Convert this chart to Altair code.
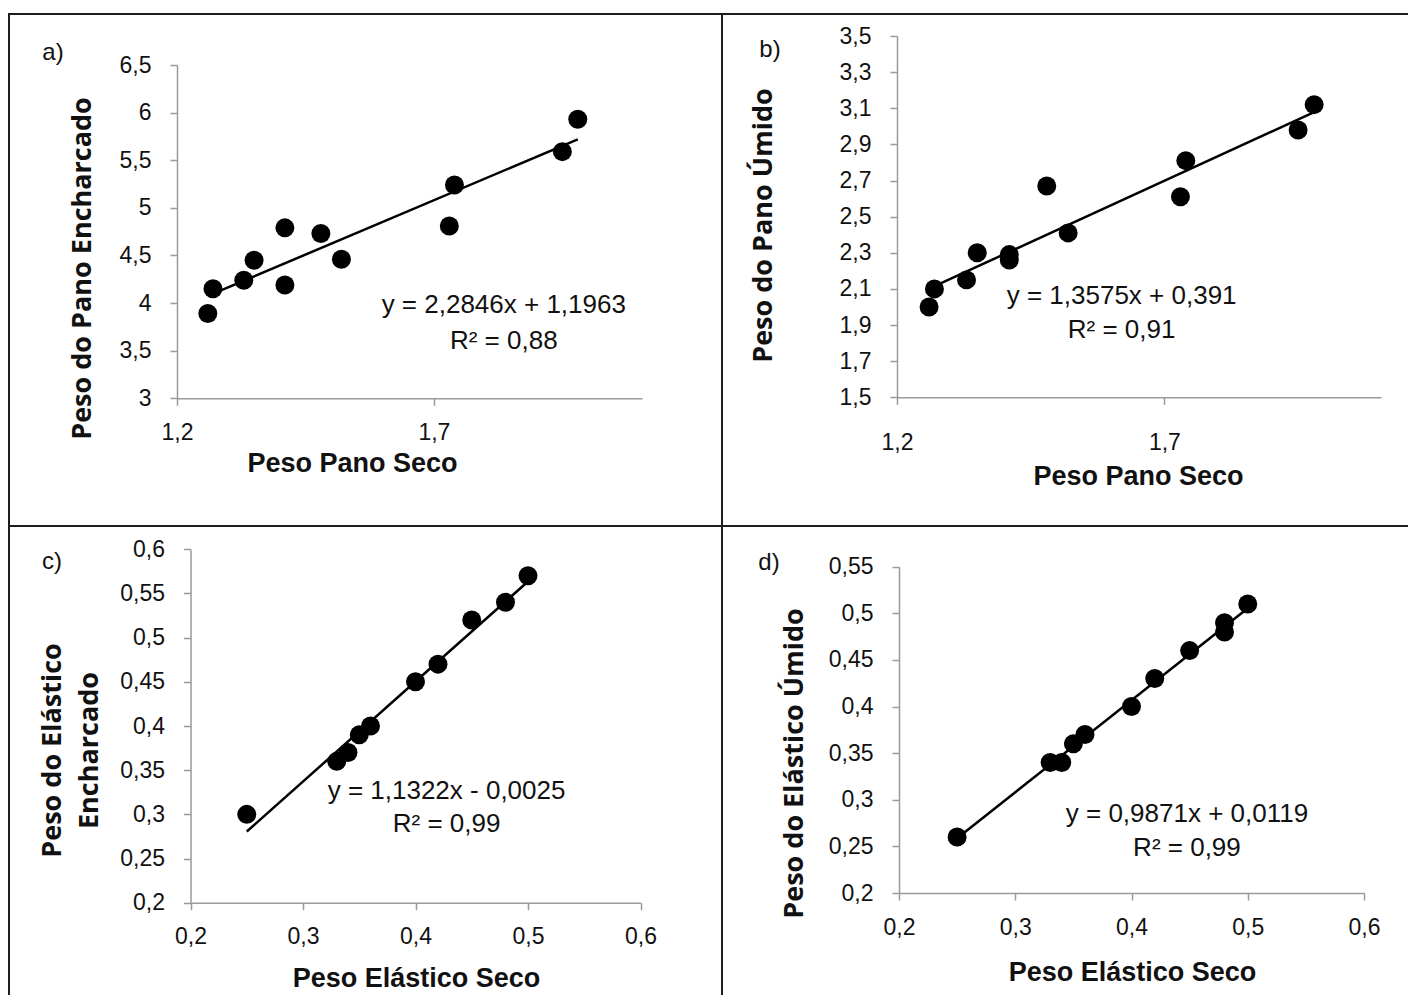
import altair as alt
import pandas as pd

# ---------------- data ----------------
pano_seco_a = [1.26, 1.27, 1.33, 1.35, 1.41, 1.41, 1.48, 1.52, 1.73, 1.74, 1.95, 1.98]
pano_encharcado = [3.89, 4.15, 4.24, 4.45, 4.79, 4.19, 4.73, 4.46, 4.81, 5.24, 5.59, 5.93]

pano_seco_b = [1.26, 1.27, 1.33, 1.35, 1.41, 1.41, 1.48, 1.52, 1.73, 1.74, 1.95, 1.98]
pano_umido = [2.00, 2.10, 2.15, 2.30, 2.29, 2.26, 2.67, 2.41, 2.61, 2.81, 2.98, 3.12]

elastico_seco_c = [0.25, 0.33, 0.34, 0.35, 0.36, 0.40, 0.42, 0.45, 0.48, 0.50]
elastico_encharcado = [0.30, 0.36, 0.37, 0.39, 0.40, 0.45, 0.47, 0.52, 0.54, 0.57]

elastico_seco_d = [0.25, 0.33, 0.34, 0.35, 0.36, 0.40, 0.42, 0.45, 0.48, 0.48, 0.50]
elastico_umido = [0.26, 0.34, 0.34, 0.36, 0.37, 0.40, 0.43, 0.46, 0.48, 0.49, 0.51]

# trend-line equations as printed on the chart
slopes = [2.2846, 1.3575, 1.1322, 0.9871]
intercepts = [1.1963, 0.391, -0.0025, 0.0119]
eq_texts = [
    ["y = 2,2846x + 1,1963", "R² = 0,88"],
    ["y = 1,3575x + 0,391", "R² = 0,91"],
    ["y = 1,1322x - 0,0025", "R² = 0,99"],
    ["y = 0,9871x + 0,0119", "R² = 0,99"],
]
# equation anchor positions in data units (x, y line 1, y line 2)
eq_anchor = [
    (1.836, 3.98, 3.60),
    (1.620, 2.06, 1.873),
    (0.4276, 0.3264, 0.289),
    (0.4477, 0.2847, 0.248),
]
panel_labels = ["a)", "b)", "c)", "d)"]

x_titles = ["Peso Pano Seco", "Peso Pano Seco", "Peso Elástico Seco", "Peso Elástico Seco"]
y_titles = ["Peso do Pano Encharcado", "Peso do Pano Úmido",
            ["Peso do Elástico", "Encharcado"], "Peso do Elástico Úmido"]

x_ticks_pano = [1.2, 1.7]
y_ticks_a = [3, 3.5, 4, 4.5, 5, 5.5, 6, 6.5]
y_ticks_b = [1.5, 1.7, 1.9, 2.1, 2.3, 2.5, 2.7, 2.9, 3.1, 3.3, 3.5]
x_ticks_elastico = [0.2, 0.3, 0.4, 0.5, 0.6]
y_ticks_c = [0.2, 0.25, 0.3, 0.35, 0.4, 0.45, 0.5, 0.55, 0.6]
y_ticks_d = [0.2, 0.25, 0.3, 0.35, 0.4, 0.45, 0.5, 0.55]

# ---------------- styling / layout ----------------
W, H = 1400, 987
NARROW = "Liberation Sans Narrow, Arial Narrow, Liberation Sans, sans-serif"
WIDE = "Open Sans, DejaVu Sans, sans-serif"
LABEL_EXPR = "replace(datum.label, '.', ',')"
AXIS_GRAY = "#9a9a9a"
LINE_COLOR = "#1e1e1e"


def panel(i, xs, ys, xdom, ydom, xticks, yticks, xrange_px, yrange_px,
          xt_pos, yt_pos, x_lab_pad=16):
    pts = pd.DataFrame({"x": xs, "y": ys})
    xmin, xmax = min(xs), max(xs)
    trend = pd.DataFrame({
        "x": [xmin, xmax],
        "y": [slopes[i] * xmin + intercepts[i], slopes[i] * xmax + intercepts[i]],
    })
    ex, ey1, ey2 = eq_anchor[i]
    eq = pd.DataFrame({"x": [ex, ex], "y": [ey1, ey2], "t": eq_texts[i]})

    xscale = alt.Scale(domain=xdom, range=xrange_px, nice=False, zero=False)
    yscale = alt.Scale(domain=ydom, range=yrange_px, nice=False, zero=False)

    xaxis = alt.Axis(
        orient="bottom", offset=yrange_px[0] - H,
        values=xticks, format="~g", labelExpr=LABEL_EXPR, grid=False,
        labelFlush=False, labelOverlap=False,
        title=x_titles[i], titleX=xt_pos[0], titleY=xt_pos[1],
        titleAlign="center", titleBaseline="middle", titleAnchor="start",
        titleFont=NARROW, titleFontSize=27, titleFontWeight="bold",
        labelPadding=x_lab_pad,
    )
    yaxis = alt.Axis(
        orient="left", offset=-xrange_px[0],
        values=yticks, format="~g", labelExpr=LABEL_EXPR, grid=False,
        labelFlush=False, labelOverlap=False,
        title=y_titles[i], titleX=yt_pos[0], titleY=yt_pos[1],
        titleAlign="center", titleBaseline="middle", titleAngle=270,
        titleAnchor="start",
        titleFont=WIDE, titleFontSize=27, titleFontWeight="bold",
        titleLineHeight=37, labelPadding=19,
    )

    points = alt.Chart(pts).mark_circle(size=360, color="black", opacity=1).encode(
        x=alt.X("x:Q", scale=xscale, axis=xaxis),
        y=alt.Y("y:Q", scale=yscale, axis=yaxis),
    )
    line = alt.Chart(trend).mark_line(color="black", strokeWidth=2.5).encode(
        x=alt.X("x:Q", scale=xscale), y=alt.Y("y:Q", scale=yscale)
    )
    text = alt.Chart(eq).mark_text(
        font=NARROW, fontSize=26, color="#111", align="center", baseline="middle"
    ).encode(x=alt.X("x:Q", scale=xscale), y=alt.Y("y:Q", scale=yscale), text="t:N")
    return alt.layer(line, points, text)


# page coordinates minus the 8px body margin
pa = panel(0, pano_seco_a, pano_encharcado, [1.2, 2.105], [3, 6.5], x_ticks_pano, y_ticks_a,
           [169, 634], [390.3, 57], (344, 65), (-94.5, 260))
pb = panel(1, pano_seco_b, pano_umido, [1.2, 2.105], [1.5, 3.5], x_ticks_pano, y_ticks_b,
           [889, 1373], [389.3, 28], (1130, 79), (-133.5, 217), x_lab_pad=27)
pc = panel(2, elastico_seco_c, elastico_encharcado, [0.2, 0.6], [0.2, 0.6], x_ticks_elastico, y_ticks_c,
           [182.5, 632.5], [894.7, 541.3], (408, 76), (-138.5, 742))
pd_ = panel(3, elastico_seco_d, elastico_umido, [0.2, 0.6], [0.2, 0.55], x_ticks_elastico, y_ticks_d,
            [891, 1356], [885, 558.7], (1124, 79), (-104.5, 755))

one = pd.DataFrame({"k": [0]})
rule = alt.Chart(one).mark_rule(color=LINE_COLOR, strokeWidth=2)
frame = [
    rule.encode(x=alt.value(0), x2=alt.value(W), y=alt.value(6)),
    rule.encode(x=alt.value(0), x2=alt.value(W), y=alt.value(518)),
    rule.encode(x=alt.value(1), y=alt.value(6), y2=alt.value(H)),
    rule.encode(x=alt.value(714), y=alt.value(6), y2=alt.value(H)),
]
label_xy = [(45, 45), (762, 42), (44, 554), (761, 555)]
labels = [
    alt.Chart(one).mark_text(
        font=NARROW, fontSize=24, color="#111", align="center", baseline="middle"
    ).encode(x=alt.value(lx), y=alt.value(ly), text=alt.value(panel_labels[k]))
    for k, (lx, ly) in enumerate(label_xy)
]

chart = alt.layer(*frame, *labels, pa, pb, pc, pd_).resolve_scale(
    x="independent", y="independent"
).resolve_axis(x="independent", y="independent").properties(
    width=W, height=H,
    autosize=alt.AutoSizeParams(type="none"),
    padding={"left": 0, "top": 0, "right": 0, "bottom": 0},
).configure_view(strokeWidth=0).configure_axis(
    domainColor=AXIS_GRAY, domainWidth=1.5, tickColor=AXIS_GRAY, tickWidth=1.5,
    tickSize=7, labelColor="#111", labelFont=NARROW, labelFontSize=23,
    titleColor="#111",
)

chart.save("out.html", embed_options={"renderer": "svg", "actions": False})
